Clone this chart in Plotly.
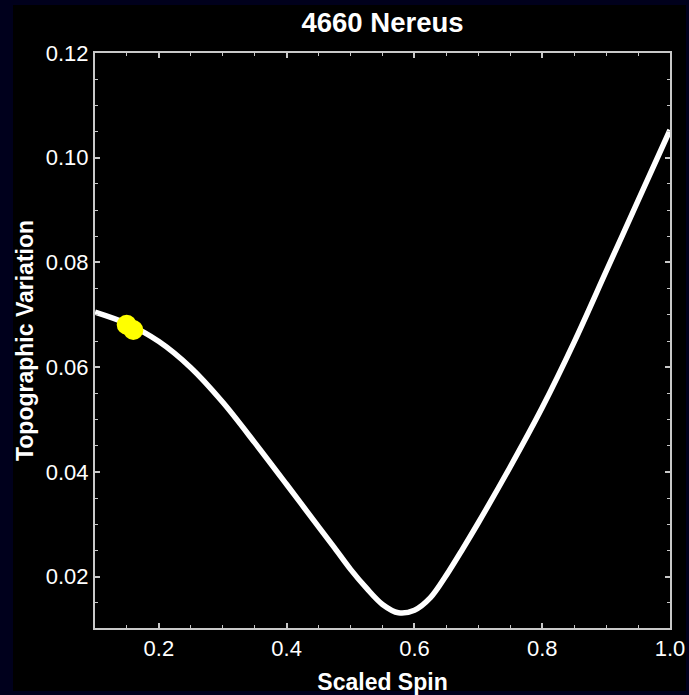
import plotly.graph_objects as go

# Data
spin = [0.10, 0.15, 0.20, 0.25, 0.30, 0.35, 0.40, 0.45, 0.475, 0.50, 0.525, 0.55,
        0.575, 0.60, 0.625, 0.65, 0.675, 0.70, 0.75, 0.80, 0.85, 0.90, 0.95, 1.00]
topo = [0.0705, 0.0683, 0.0649, 0.0599, 0.0533, 0.0456, 0.0376, 0.0295, 0.0255,
        0.0214, 0.0178, 0.0147, 0.0131, 0.0136, 0.0160, 0.0203, 0.0252, 0.0303,
        0.0410, 0.0523, 0.0648, 0.0783, 0.0918, 0.1053]

point_spin = [0.1496, 0.1600]
point_topo = [0.0681, 0.0671]

title_text = "4660 Nereus"
x_title = "Scaled Spin"
y_title = "Topographic Variation"

W, H = 689, 695
L, R, T, B = 95, 19, 53, 67
pw, ph = W - L - R, H - T - B

def px_x(p):
    return (p - L) / pw

def px_y(p):
    return (H - B - p) / ph

FONT = "Liberation Sans, Arial, sans-serif"

fig = go.Figure()
fig.add_trace(go.Scatter(x=spin, y=topo, mode="lines",
                         line=dict(color="white", width=5.5, shape="spline", smoothing=0.9),
                         hoverinfo="skip", showlegend=False))
fig.add_trace(go.Scatter(x=point_spin, y=point_topo, mode="markers",
                         marker=dict(color="#ffff00", size=20, line=dict(width=0)),
                         showlegend=False))

axis_common = dict(
    showgrid=False, zeroline=False, showline=True, linecolor="#c8c8c8", linewidth=2,
    mirror="allticks", ticks="inside", ticklen=5, tickwidth=1.5, tickcolor="#c8c8c8",
    automargin=False,
    tickfont=dict(family=FONT, size=22, color="white"),
)

fig.update_xaxes(range=[0.1, 1.0], tick0=0, dtick=0.2, tickformat=".1f",
                 minor=dict(dtick=0.05, tick0=0, ticks="inside", ticklen=3, tickcolor="#c8c8c8", tickwidth=1),
                 title=dict(text=x_title, standoff=14,
                            font=dict(family=FONT, size=23, color="white", weight="bold")),
                 **axis_common)
fig.update_yaxes(range=[0.0102, 0.12], tick0=0, dtick=0.02, tickformat=".2f",
                 minor=dict(dtick=0.005, tick0=0, ticks="inside", ticklen=3, tickcolor="#c8c8c8", tickwidth=1),
                 title=dict(text=y_title, standoff=6,
                            font=dict(family=FONT, size=23, color="white", weight="bold")),
                 **axis_common)

fig.add_shape(type="rect", xref="paper", yref="paper",
              x0=px_x(13), x1=px_x(686), y0=px_y(691), y1=px_y(5),
              fillcolor="black", line=dict(width=0), layer="below")

fig.update_layout(
    width=W, height=H,
    margin=dict(l=L, r=R, t=T, b=B),
    paper_bgcolor="#00001c", plot_bgcolor="black",
    title=dict(text=title_text, x=(L + pw / 2) / W, xanchor="center",
               y=1 - 22.5 / H, yanchor="middle",
               font=dict(family=FONT, size=27.5, color="white", weight="bold")),
)

fig.write_html("out.html")
